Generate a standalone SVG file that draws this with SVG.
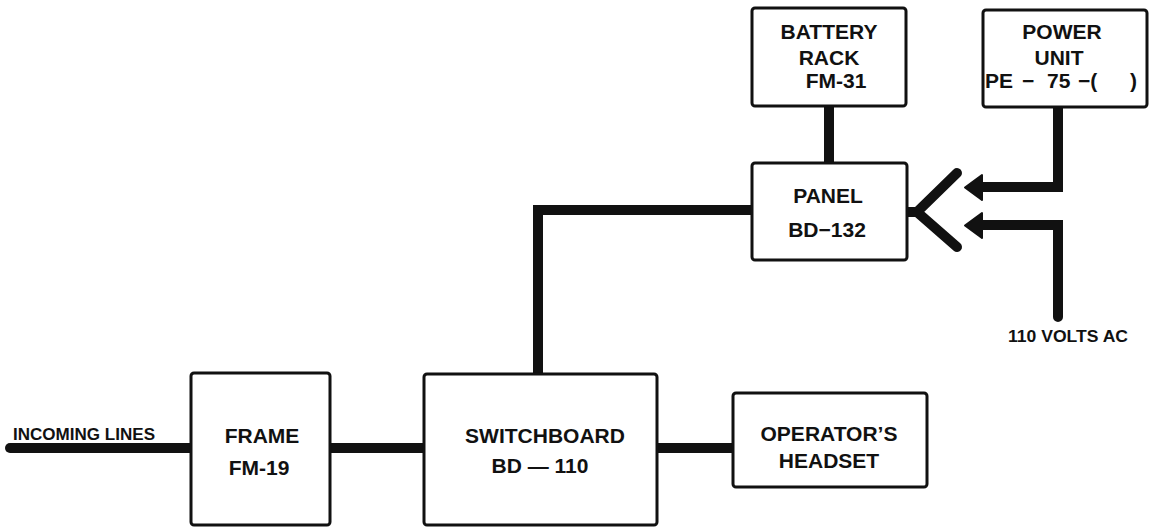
<svg xmlns="http://www.w3.org/2000/svg" width="1154" height="528" viewBox="0 0 1154 528">
<style>
.box{fill:#fff;stroke:#111;stroke-width:3;stroke-linejoin:round}
.wire{fill:none;stroke:#111;stroke-width:10;stroke-linejoin:miter;stroke-linecap:butt}
.rc{stroke-linecap:round}
.lbl{font-family:"Liberation Sans",Arial,sans-serif;font-weight:bold;font-size:21px;fill:#111;text-anchor:middle}
.st{text-anchor:start}
.sm{font-family:"Liberation Sans",Arial,sans-serif;font-weight:bold;fill:#111}
.head{fill:#111;stroke:#111;stroke-width:2;stroke-linejoin:round}
</style>
<rect width="1154" height="528" fill="#fff"/>
<g id="connectors">
<path class="wire rc" d="M 10 448 H 191"/>
<path class="wire" d="M 330 448 H 424"/>
<path class="wire" d="M 657 448 H 733"/>
<path class="wire" d="M 752 210 H 538 V 374"/>
<path class="wire" d="M 829 106 V 163"/>
<path class="wire rc" d="M 907 212 H 917 L 957 173 M 917 212 L 957 247"/>
<path class="wire" d="M 1058 107 V 187 H 980"/>
<polygon class="head" points="965,187.5 982,175 982,200"/>
<path class="wire rc" d="M 1058 317 V 225 H 980"/>
<polygon class="head" points="965,225.5 982,213 982,238"/>
</g>
<g id="battery-rack">
<rect class="box" x="752" y="8" width="154" height="98" rx="3"/>
<text class="lbl" x="829" y="39">BATTERY</text>
<text class="lbl" x="829" y="65">RACK</text>
<text class="lbl" x="836" y="88">FM-31</text>
</g>
<g id="power-unit">
<rect class="box" x="983" y="10" width="164" height="97" rx="3"/>
<text class="lbl" x="1062" y="39">POWER</text>
<text class="lbl" x="1059" y="65">UNIT</text>
<text class="lbl st" y="88"><tspan x="985">PE</tspan><tspan x="1022">−</tspan><tspan x="1047">75</tspan><tspan x="1078">−(</tspan><tspan x="1130">)</tspan></text>
</g>
<g id="panel">
<rect class="box" x="752" y="163" width="155" height="97" rx="3"/>
<text class="lbl" x="828" y="203">PANEL</text>
<text class="lbl" x="827" y="237">BD−132</text>
</g>
<g id="frame">
<rect class="box" x="191" y="373" width="139" height="152" rx="3"/>
<text class="lbl" x="262" y="443">FRAME</text>
<text class="lbl" x="259" y="475">FM-19</text>
</g>
<g id="switchboard">
<rect class="box" x="424" y="374" width="233" height="151" rx="3"/>
<text class="lbl" x="545" y="443">SWITCHBOARD</text>
<text class="lbl" x="540" y="473">BD — 110</text>
</g>
<g id="headset">
<rect class="box" x="733" y="393" width="194" height="94" rx="3"/>
<text class="lbl" x="829" y="441">OPERATOR’S</text>
<text class="lbl" x="829" y="468">HEADSET</text>
</g>
<g id="labels">
<text class="sm" x="13" y="440" font-size="17" textLength="142" lengthAdjust="spacingAndGlyphs">INCOMING LINES</text>
<text class="sm" x="1008" y="342" font-size="16" textLength="120" lengthAdjust="spacingAndGlyphs">110 VOLTS AC</text>
</g>
</svg>
